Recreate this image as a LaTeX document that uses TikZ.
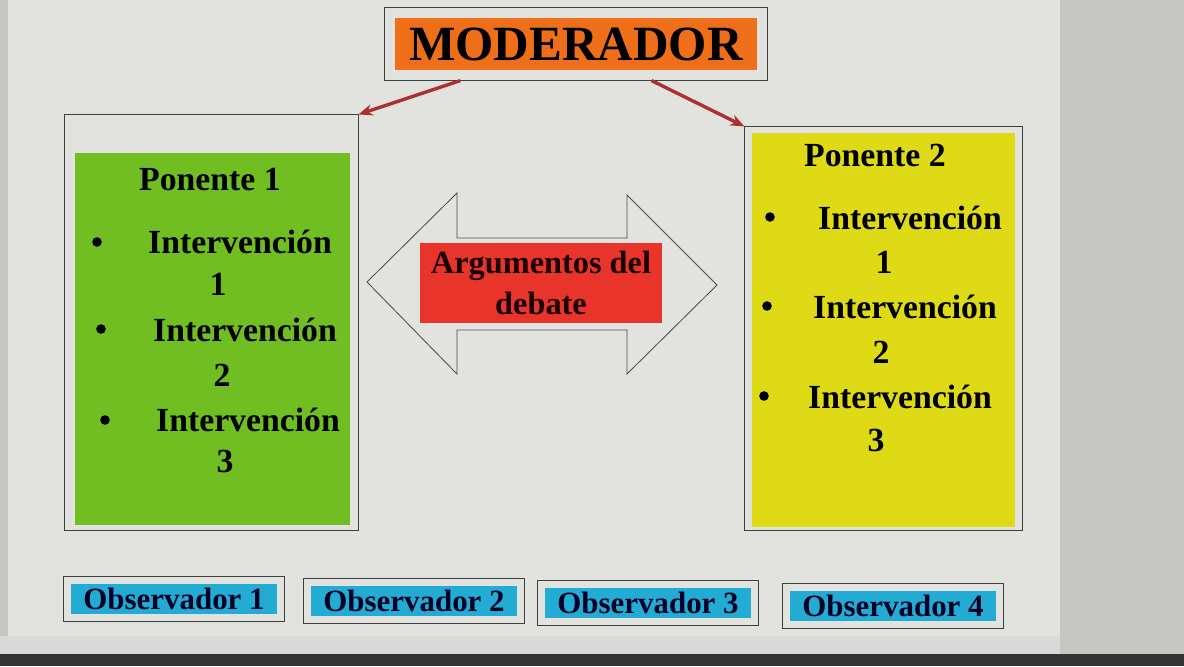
\documentclass[tikz,border=0pt]{standalone}
\usepackage{fontspec}
\setmainfont{Liberation Serif}
\usetikzlibrary{fit,arrows.meta}
\definecolor{pagina}{RGB}{226,227,223}
\definecolor{fondo}{RGB}{198,199,195}
\definecolor{naranja}{RGB}{238,110,26}
\definecolor{verde}{RGB}{112,190,34}
\definecolor{amarillo}{RGB}{222,218,22}
\definecolor{rojo}{RGB}{232,52,42}
\definecolor{celeste}{RGB}{34,172,212}
\definecolor{flechaRoja}{RGB}{172,48,48}

\begin{document}
\begin{tikzpicture}[x=0.025cm,y=-0.025cm,
        every node/.style={font=\bfseries},
        marco/.style={draw=black!75,line width=0.6pt,inner sep=0pt},
        caja/.style={inner sep=0pt,minimum width=5.15cm,minimum height=0.75cm,fill=celeste,
            text=black!85!blue,font=\bfseries\fontsize{22}{24}\selectfont},
        titulo/.style={font=\bfseries\fontsize{24}{28}\selectfont},
        item/.style={font=\bfseries\fontsize{24}{28}\selectfont},
        bala/.style={circle,fill=black,inner sep=0pt,minimum size=0.24cm},
        flecha/.style={-{Stealth[length=10pt,width=8pt]},draw=flechaRoja,line width=2.4pt}]
    \fill[fondo] (0,0) rectangle (1184,666);
    \fill[pagina] (8,0) rectangle (1060,636);
    \fill[black!15] (0,636) rectangle (1060,654);
    \fill[black!80] (0,654) rectangle (1184,666);

    \node[fill=naranja,minimum width=9.05cm,minimum height=1.3cm,inner sep=0pt,
        font=\bfseries\fontsize{35}{36}\selectfont] (mod) at (576,44) {MODERADOR};
    \node[marco,inner sep=7pt,fit=(mod)] (marcoMod) {};

    \node[marco,minimum width=7.33cm,minimum height=10.38cm] (panel1) at (211.5,322.5) {};
    \fill[verde] (75,153) rectangle (350,525);
    \node[marco,minimum width=6.93cm,minimum height=10.08cm] (panel2) at (883.5,328.5) {};
    \fill[amarillo] (752,133) rectangle (1015,527);

    \draw[flecha] ([xshift=1.9cm]marcoMod.south west) -- (panel1.north east);
    \draw[flecha] ([xshift=-2.9cm]marcoMod.south east) -- (panel2.north west);

    \node[titulo] (pon1) at (210,180) {Ponente 1};
    \node[bala] (b11) at (97,242) {};
    \node[item] (i11) at (240,242) {Intervención};
    \node[item] (n11) at (218,284) {1};
    \node[bala] (b12) at (101,329) {};
    \node[item] (i12) at (245,330) {Intervención};
    \node[item] (n12) at (222,375) {2};
    \node[bala] (b13) at (105,420) {};
    \node[item] (i13) at (248,420) {Intervención};
    \node[item] (n13) at (225,461) {3};

    \node[titulo] (pon2) at (875,155) {Ponente 2};
    \node[bala] (b21) at (770,217) {};
    \node[item] (i21) at (910,218) {Intervención};
    \node[item] (n21) at (884,262) {1};
    \node[bala] (b22) at (767,306) {};
    \node[item] (i22) at (905,307) {Intervención};
    \node[item] (n22) at (881,352) {2};
    \node[bala] (b23) at (764,396) {};
    \node[item] (i23) at (900,397) {Intervención};
    \node[item] (n23) at (876,440) {3};

    \draw[black!70,line width=0.6pt] (367,282) -- (457,193) -- (457,238) -- (627,238) -- (627,195)
        -- (717,285) -- (627,374) -- (627,330) -- (457,330) -- (457,374) -- cycle;
    \node[fill=rojo,minimum width=6.05cm,minimum height=2cm,inner sep=0pt,align=center,
        font=\bfseries\fontsize{23}{29}\selectfont,text=black!90!red] (arg) at (541,283) {Argumentos del\\debate};

    \node[caja] (obs1) at (174,599) {Observador 1};
    \node[caja] (obs2) at (414,601) {Observador 2};
    \node[caja] (obs3) at (648,603) {Observador 3};
    \node[caja] (obs4) at (893,606) {Observador 4};
    \foreach \o in {obs1,obs2,obs3,obs4}
        \node[marco,inner sep=5pt,fit=(\o)] {};
\end{tikzpicture}
\end{document}
